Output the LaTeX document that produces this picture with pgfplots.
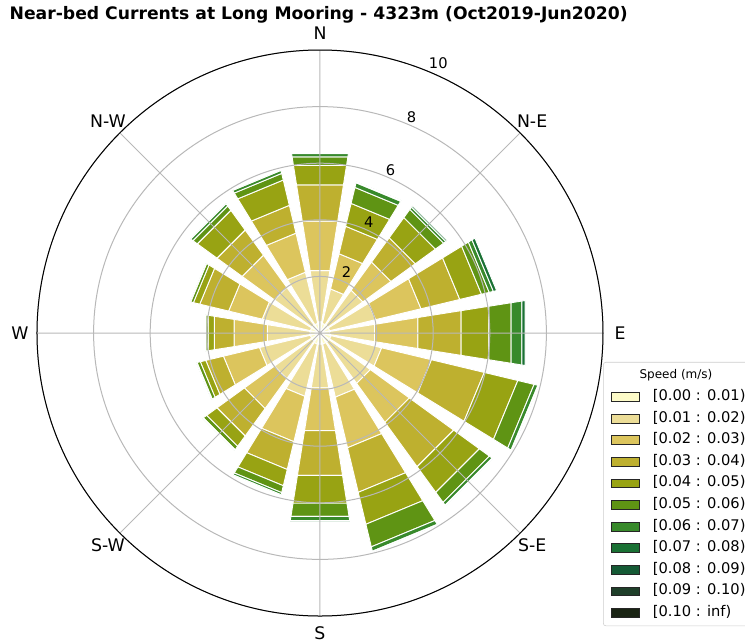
\documentclass[border=0pt]{standalone}
\usepackage{fontspec}
\setmainfont{DejaVu Sans}
\usepackage{pgfplots}
\usepgfplotslibrary{polar}
\pgfplotsset{compat=1.18}
\usepackage{pgfplotstable}

\definecolor{bin0}{HTML}{FDFBC8}
\definecolor{bin1}{HTML}{ECDD97}
\definecolor{bin2}{HTML}{DCC55D}
\definecolor{bin3}{HTML}{BEB02F}
\definecolor{bin4}{HTML}{98A313}
\definecolor{bin5}{HTML}{5F9414}
\definecolor{bin6}{HTML}{388A2B}
\definecolor{bin7}{HTML}{1A7134}
\definecolor{bin8}{HTML}{155A35}
\definecolor{bin9}{HTML}{1F3F2A}
\definecolor{bin10}{HTML}{1A2414}
\definecolor{gridgray}{HTML}{B8B8B8}

% compass direction (deg, clockwise from N) and cumulative frequency (%) per speed bin
\pgfplotstableread{
c     b0   b1   b2   b3   b4   b5   b6   b7
0     0.40 2.23 4.00 5.30 6.00 6.30 6.42 6.42
22.5  0.35 1.60 2.88 3.88 4.71 5.29 5.46 5.50
45    0.35 1.87 3.10 4.16 5.04 5.40 5.50 5.56
67.5  0.35 2.02 3.67 5.08 5.87 6.15 6.30 6.42
90    0.35 1.95 3.50 5.05 6.04 6.84 7.22 7.34
112.5 0.40 2.24 4.05 5.97 7.19 7.78 7.92 7.95
135   0.40 2.20 3.90 5.84 6.96 7.40 7.52 7.55
157.5 0.40 2.33 4.17 5.79 6.95 7.77 7.93 7.95
180   0.40 1.96 3.49 5.09 6.09 6.56 6.71 6.71
202.5 0.40 2.30 3.95 4.96 5.55 5.80 5.88 5.88
225   0.35 2.00 3.30 4.50 4.95 5.10 5.14 5.14
247.5 0.35 2.20 3.51 4.15 4.35 4.47 4.50 4.50
270   0.35 1.88 3.07 3.78 4.00 4.08 4.10 4.10
292.5 0.35 2.10 3.32 4.37 4.60 4.70 4.72 4.72
315   0.35 2.00 3.40 4.50 5.36 5.55 5.65 5.65
337.5 0.35 2.21 3.63 4.64 5.56 5.80 5.91 5.91
}\rose

\newcommand\seg[1]{%
  \pgfplotstablegetelem{\i}{b#1}\of\rose
  \let\rcur\pgfplotsretval
  \edef\temp{\noexpand\addplot[draw=white, line width=0.7pt, fill=bin#1, forget plot]
    coordinates {(\ta,\rprev) (\ta,\rcur) (\tb,\rcur) (\tb,\rprev)} -- cycle;}%
  \temp
  \let\rprev\rcur
}

\begin{document}
\begin{tikzpicture}
\useasboundingbox (-240pt,-232.5pt) rectangle (318.75pt,249.75pt);
\node[anchor=base, font=\bfseries\fontsize{12.9}{14}\selectfont, inner sep=0pt] at (-1pt,234.75pt)
  {Near-bed Currents at Long Mooring - 4323m (Oct2019-Jun2020)};
\begin{polaraxis}[
  scale only axis, width=424.5pt, height=424.5pt,
  at={(0,0)}, anchor=center,
  xmin=0, xmax=360, ymin=0, ymax=10,
  clip=false,
  xtick={0,45,...,315},
  xticklabels={},
  ytick={2,4,6,8,10},
  yticklabels={},
  grid=major,
  major grid style={draw=gridgray, line width=0.75pt},
  separate axis lines,
  x axis line style={black, line width=0.75pt},
  y axis line style={draw=none},
  axis on top,
  major tick length=0pt,
  legend image code/.code={\draw[#1, sharp corners, draw=black!85, line width=0.5pt] (0pt,-3.3pt) rectangle (21pt,3.3pt);},
  legend cell align=left,
  legend style={at={(1.0,0.4488)}, anchor=north west, draw=black!20, rounded corners=2pt,
    fill=white, font=\fontsize{11}{11}\selectfont,
    inner xsep=6pt, inner ysep=4.5pt, row sep=5.7pt, column sep=9.75pt,
    nodes={inner sep=0pt, text height=8pt, text depth=2.5pt}},
]
\pgfplotsforeachungrouped \i in {0,...,15}{%
  \pgfplotstablegetelem{\i}{c}\of\rose
  \let\cc\pgfplotsretval
  \pgfmathsetmacro\ta{90-\cc-9}%
  \pgfmathsetmacro\tb{90-\cc+9}%
  \def\rprev{0}%
  \seg{0}\seg{1}\seg{2}\seg{3}\seg{4}\seg{5}\seg{6}\seg{7}%
}
% radial tick labels
\node[font=\fontsize{11}{11}\selectfont] at (axis cs:66.3,2.34) {2};
\node[font=\fontsize{11}{11}\selectfont] at (axis cs:66.3,4.28) {4};
\node[font=\fontsize{11}{11}\selectfont] at (axis cs:66.6,6.27) {6};
\node[font=\fontsize{11}{11}\selectfont] at (axis cs:67,8.28) {8};
\node[font=\fontsize{11}{11}\selectfont] at (axis cs:66.3,10.4) {10};
% compass tick labels
\node[font=\fontsize{13}{13}\selectfont] at (axis cs:0,10.6) {E};
\node[font=\fontsize{13}{13}\selectfont] at (axis cs:45,10.6) {N-E};
\node[font=\fontsize{13}{13}\selectfont] at (axis cs:90,10.6) {N};
\node[font=\fontsize{13}{13}\selectfont] at (axis cs:135,10.6) {N-W};
\node[font=\fontsize{13}{13}\selectfont] at (axis cs:180,10.6) {W};
\node[font=\fontsize{13}{13}\selectfont] at (axis cs:225,10.6) {S-W};
\node[font=\fontsize{13}{13}\selectfont] at (axis cs:270,10.6) {S};
\node[font=\fontsize{13}{13}\selectfont] at (axis cs:315,10.6) {S-E};
\addlegendimage{empty legend}
\addlegendentry{\hspace*{-10pt}\fontsize{9}{9}\selectfont Speed (m/s)}
\addlegendimage{fill=bin0}\addlegendentry{[0.00 : 0.01)}
\addlegendimage{fill=bin1}\addlegendentry{[0.01 : 0.02)}
\addlegendimage{fill=bin2}\addlegendentry{[0.02 : 0.03)}
\addlegendimage{fill=bin3}\addlegendentry{[0.03 : 0.04)}
\addlegendimage{fill=bin4}\addlegendentry{[0.04 : 0.05)}
\addlegendimage{fill=bin5}\addlegendentry{[0.05 : 0.06)}
\addlegendimage{fill=bin6}\addlegendentry{[0.06 : 0.07)}
\addlegendimage{fill=bin7}\addlegendentry{[0.07 : 0.08)}
\addlegendimage{fill=bin8}\addlegendentry{[0.08 : 0.09)}
\addlegendimage{fill=bin9}\addlegendentry{[0.09 : 0.10)}
\addlegendimage{fill=bin10}\addlegendentry{[0.10 : inf)}
\end{polaraxis}
\end{tikzpicture}
\end{document}
